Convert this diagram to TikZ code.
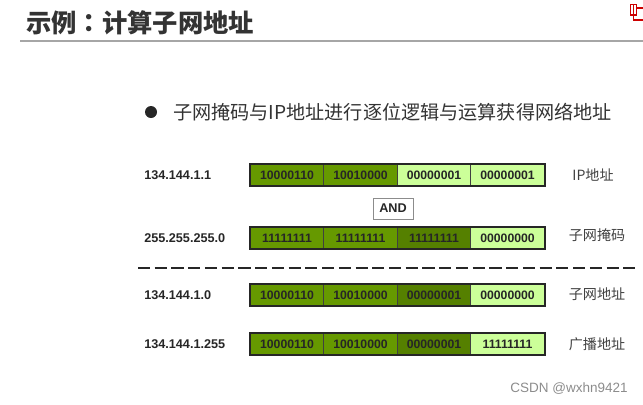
\documentclass[tikz,border=0pt]{standalone}
\usepackage{fontspec}
\usepackage{xcolor}
\setmainfont{Liberation Sans}
\newfontfamily\cjk{Noto Sans CJK SC}
\newfontfamily\cjktc{Noto Sans CJK TC}
\usetikzlibrary{positioning}
\definecolor{bitdark}{HTML}{669900}
\definecolor{bitdeep}{HTML}{558000}
\definecolor{bitlight}{HTML}{CCFF99}
\definecolor{titlegray}{HTML}{333333}

\begin{document}
\begin{tikzpicture}[
                x=0.025cm, y=-0.025cm,
                cell/.style={rectangle, draw=black!75, line width=0.5pt, minimum width=1.8375cm, minimum height=0.55cm, inner sep=0pt, font=\fontsize{8.7}{10}\selectfont\bfseries, text=black!85},
                one/.style={cell, fill=bitdark},
                deep/.style={cell, fill=bitdeep},
                zero/.style={cell, fill=bitlight},
                frame/.style={draw=black!85, line width=1.3pt},
                addr/.style={anchor=west, inner sep=0pt, font=\fontsize{9}{11}\selectfont\bfseries, text=black!85},
                tag/.style={anchor=center, inner sep=0pt, font=\cjk\fontsize{10}{12}\selectfont, text=black!75}
            ]
                \useasboundingbox (0,0) rectangle (643,404);

                % Title
                \node[anchor=west, inner sep=0pt, font=\cjk\fontsize{18}{22}\selectfont\bfseries, text=titlegray] (title) at (26,23) {示例{\cjktc\bfseries ：}计算子网地址};
                \draw[black!35, line width=1pt] (20,41) -- (643,41);

                % Logo
                \draw[red!80!black, line width=1.4pt] (630.5,4.5) rectangle (636.5,15) (636.5,8) -- (643,8) (633.5,4.5) -- (633.5,20) -- (643,20);

                % Bullet
                \node[circle, fill=black!85, inner sep=0pt, minimum size=0.3cm] (dot) at (151,112) {};
                \node[anchor=west, inner sep=0pt, font=\fontsize{13.6}{16}\selectfont\cjk, text=black!80] (bullet) at (173,112) {子网掩码与IP地址进行逐位逻辑与运算获得网络地址};

                % IP address
                \node[addr] (ip) at (144,175) {134.144.1.1};
                \node[one] (ipA) at (287,175) {10000110};
                \node[one] (ipB) at (360.5,175) {10010000};
                \node[zero] (ipC) at (434,175) {00000001};
                \node[zero] (ipD) at (507.5,175) {00000001};
                \draw[frame] (ipA.north west) rectangle (ipD.south east);
                \node[tag] (ipTag) at (593,175) {IP地址};

                % AND
                \node[draw=black!45, fill=white, line width=0.6pt, minimum width=1cm, minimum height=0.525cm, inner sep=0pt, font=\fontsize{9}{11}\selectfont\bfseries, text=black!85] (and) at (393,208.5) {AND};

                % Mask
                \node[addr] (mask) at (144,238) {255.255.255.0};
                \node[one] (maskA) at (287,238) {11111111};
                \node[one] (maskB) at (360.5,238) {11111111};
                \node[deep] (maskC) at (434,238) {11111111};
                \node[zero] (maskD) at (507.5,238) {00000000};
                \draw[frame] (maskA.north west) rectangle (maskD.south east);
                \node[tag] (maskTag) at (597,235) {子网掩码};

                % Divider
                \draw[black!85, line width=0.9pt, dash pattern=on 8.6pt off 3.3pt] (138,268) -- (637,268);

                % Subnet
                \node[addr] (net) at (144,295) {134.144.1.0};
                \node[one] (netA) at (287,295) {10000110};
                \node[one] (netB) at (360.5,295) {10010000};
                \node[deep] (netC) at (434,295) {00000001};
                \node[zero] (netD) at (507.5,295) {00000000};
                \draw[frame] (netA.north west) rectangle (netD.south east);
                \node[tag] (netTag) at (597,294) {子网地址};

                % Broadcast
                \node[addr] (cast) at (144,344) {134.144.1.255};
                \node[one] (castA) at (287,344) {10000110};
                \node[one] (castB) at (360.5,344) {10010000};
                \node[deep] (castC) at (434,344) {00000001};
                \node[zero] (castD) at (507.5,344) {11111111};
                \draw[frame] (castA.north west) rectangle (castD.south east);
                \node[tag] (castTag) at (597,344) {广播地址};

                % Watermark
                \node[anchor=east, inner sep=0pt, font=\fontsize{9.6}{12}\selectfont, text=black!45] (mark) at (628,389) {CSDN @wxhn9421};

            \end{tikzpicture}
\end{document}
